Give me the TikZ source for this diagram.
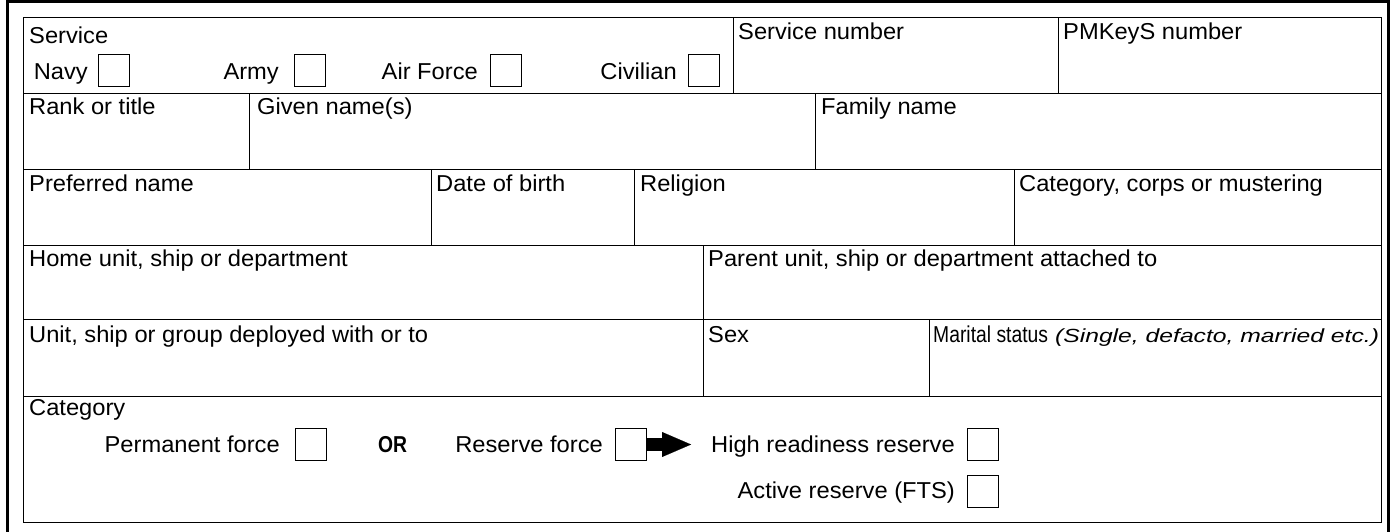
\documentclass[tikz,border=0pt]{standalone}
\usepackage{fontspec}
\setmainfont{Liberation Sans}[FakeStretch=1.03]
\usetikzlibrary{arrows.meta}
\tikzset{%
    frm/.style={line width=3pt},
    grd/.style={line width=1pt},
    lab/.style={anchor=base west, inner sep=0pt},
    labr/.style={anchor=base east, inner sep=0pt},
    chk/.style={draw, line width=1pt, minimum width=31pt, minimum height=32pt, inner sep=0pt},
    bigarr/.style={line width=13pt, -{Triangle[length=29pt, width=25pt, line width=0.1pt]}},
}
\begin{document}
\begin{tikzpicture}[x=1pt, y=-1pt, font=\fontsize{23}{27}\selectfont]
    \useasboundingbox (0,0) rectangle (1399,532);
    \draw [frm](7,532) |- (1388,2) -- (1388,532);
    \draw [grd](23,18) rectangle (1381,522);
    \foreach \y in {94,169,245,319,396}
        \draw [grd](23,\y) -- (1381,\y);
    \foreach \x/\a/\b in {733/18/94, 1058/18/94, 249/94/169, 815/94/169, 431/169/245,
        634/169/245, 1014/169/245, 703/245/396, 929/319/396}
        \draw [grd](\x,\a) -- (\x,\b);
    % service row
    \node [lab] (svc) at (29,44) {Service};
    \node [chk] (nbox) at (113.5,71) {};
    \node [chk] (abox) at (310,71) {};
    \node [chk] (afbox) at (506,71) {};
    \node [chk] (cbox) at (703.5,71) {};
    \node [labr] (navy) at (88,80) {Navy};
    \node [labr] (army) at (279,80) {Army};
    \node [labr] (airf) at (478,80) {Air Force};
    \node [labr] (civ) at (677,80) {Civilian};
    \node [lab] (snum) at (738,40) {Service number};
    \node [lab] (pmk) at (1063,40) {PMKeyS number};
    % names
    \node [lab] (rank) at (29,115) {Rank or title};
    \node [lab] (given) at (257,115) {Given name(s)};
    \node [lab] (fam) at (821,115) {Family name};
    \node [lab] (pref) at (29,191) {Preferred name};
    \node [lab] (dob) at (436,191) {Date of birth};
    \node [lab] (rel) at (640,191) {Religion};
    \node [lab] (cat) at (1019,191) {Category, corps or mustering};
    % units
    \node [lab] (home) at (29,266) {Home unit, ship or department};
    \node [lab] (par) at (708,266) {Parent unit, ship or department attached to};
    \node [lab] (unit) at (29,342) {Unit, ship or group deployed with or to};
    \node [lab] (sex) at (708,342) {Sex};
    \node [lab] (mar) at (933,342) {{\addfontfeature{FakeStretch=0.84}Marital status}\hspace{7pt}%
        {\fontsize{19}{22}\selectfont\itshape\addfontfeature{FakeStretch=1.3}(Single, defacto, married etc.)}};
    % category
    \node [lab] (catg) at (29,415) {Category};
    \node [chk] (pbox) at (310.5,444.5) {};
    \node [chk] (rbox) at (631,444.5) {};
    \node [chk] (hbox) at (982.5,444.5) {};
    \node [chk] (arbox) at (982.5,491) {};
    \node [labr] (perm) at (280,452) {Permanent force};
    \node [lab] (orw) at (378,452) {\bfseries\addfontfeature{FakeStretch=0.84}OR};
    \node [labr] (res) at (603,452) {Reserve force};
    \node [labr] (hirr) at (955,452) {High readiness reserve};
    \node [labr] (actr) at (955,498) {Active reserve (FTS)};
    \draw [bigarr, shorten >=20pt](rbox.east) -- (rbox.east -| hirr.west);
\end{tikzpicture}
\end{document}
